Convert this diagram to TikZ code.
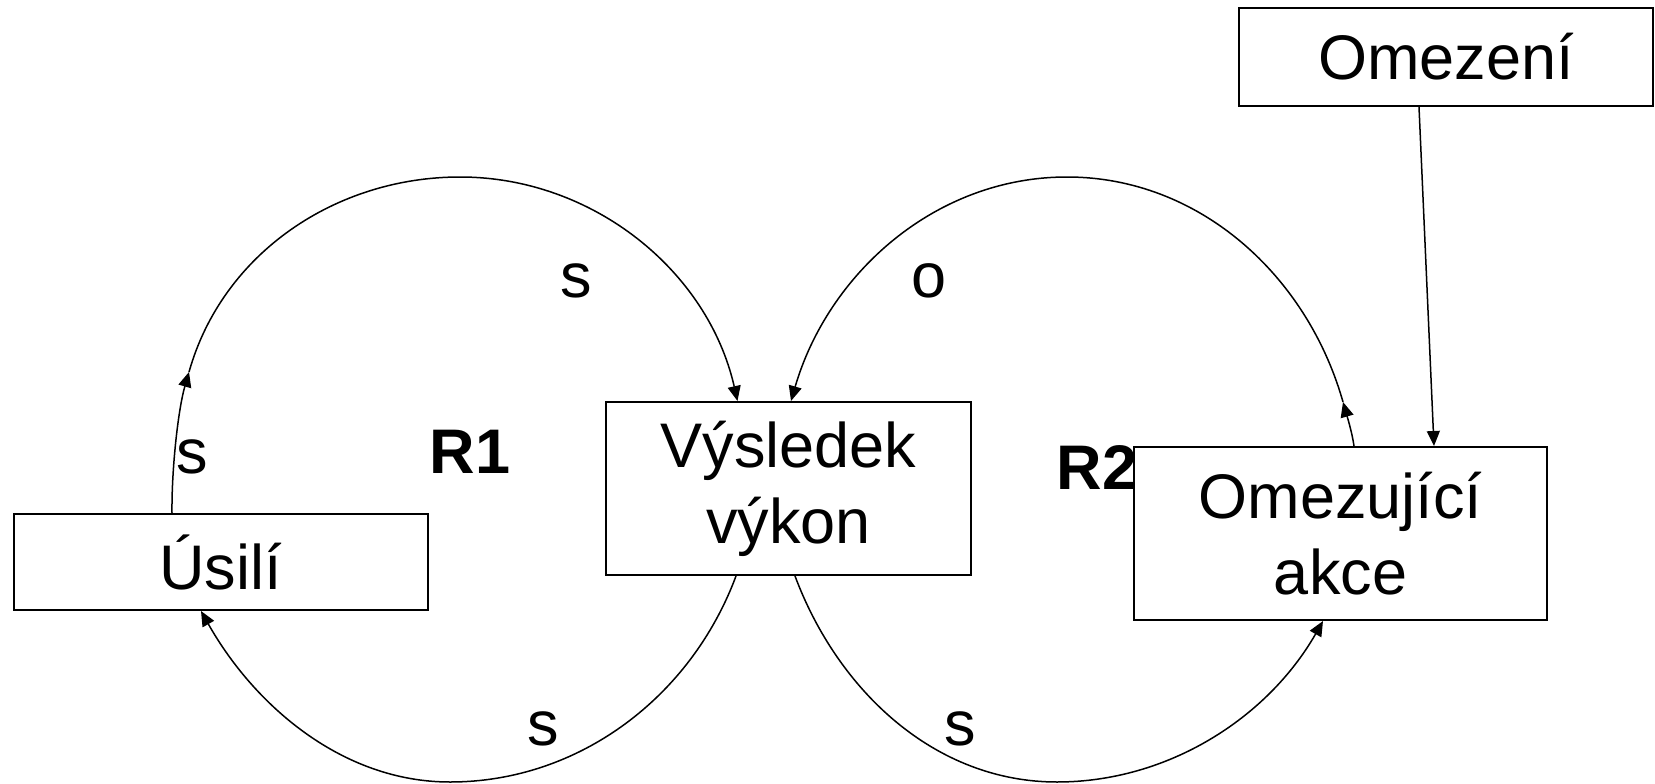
\documentclass[tikz,border=0pt]{standalone}
\usepackage{fontspec}
\setmainfont{Liberation Sans}
\usepackage{tikz}
\usetikzlibrary{arrows.meta}
\tikzset{
  box/.style = {draw, line width=2pt, inner sep=0pt, align=center,
                font=\fontsize{63}{76}\selectfont},
  lbl/.style = {anchor=base, inner sep=0pt, font=\fontsize{63}{76}\selectfont},
  loopname/.style = {anchor=base, inner sep=0pt, font=\fontsize{63}{76}\selectfont\bfseries},
  link/.style = {line width=1.5pt, -{Triangle[length=15pt,width=13pt]}}
}

\begin{document}
\begin{tikzpicture} [x=1pt, y=-1pt]
\useasboundingbox (0,0) rectangle (1655,784);
% boxes
\node[box, minimum width=414pt, minimum height=96pt] (usili) at (220.6,562) {Úsilí};
\node[box, minimum width=365pt, minimum height=173pt] (vysledek) at (788.5,488.5) {Výsledek\\výkon};
\node[box, minimum width=413pt, minimum height=173pt] (omezujici) at (1340.5,533.5) {Omezující\\akce};
\node[box, minimum width=414pt, minimum height=98pt] (omezeni) at (1446,57) {Omezení};
% labels
\node[lbl] (sUsili) at (192,473) {s};
\node[lbl] (sTop) at (576,297) {s};
\node[lbl] (oTop) at (929,297) {o};
\node[lbl] (sBotL) at (543,745) {s};
\node[lbl] (sBotR) at (960,745) {s};
\node[loopname] (rOne) at (470,473) {R1};
\node[loopname] (rTwo) at (1097,489) {R2};
% loop R1
\coordinate (tipL) at (189,372);
\draw[link] ([xshift=-48.6pt]usili.north) .. controls (171.5,470) and (178,410) .. (tipL);
\draw[link] (tipL) .. controls (222.5,253) and (336,177) .. (460,177)
   .. controls (593,177) and (708,271) .. ([xshift=-51pt]vysledek.north);
\draw[link] ([xshift=-52.5pt]vysledek.south) .. controls (691,697) and (579,782) .. (450,782)
   .. controls (342,782) and (254,705) .. ([xshift=-19.6pt]usili.south);
% loop R2
\coordinate (tipR) at (1343,402);
\draw[link] ([xshift=13.5pt]omezujici.north) .. controls (1352,432) and (1347,416) .. (tipR);
\draw[link] (tipR) .. controls (1307,275) and (1199,177) .. (1067,177)
   .. controls (935,177) and (828,274) .. ([xshift=2.5pt]vysledek.north);
\draw[link] ([xshift=6.5pt]vysledek.south) .. controls (838,691) and (935,782) .. (1057,782)
   .. controls (1168,782) and (1267.5,718) .. ([xshift=-17.5pt]omezujici.south);
% constraint
\draw[link] ([xshift=-27pt]omezeni.south) -- ([xshift=93.5pt]omezujici.north);
\end{tikzpicture}
\end{document}
